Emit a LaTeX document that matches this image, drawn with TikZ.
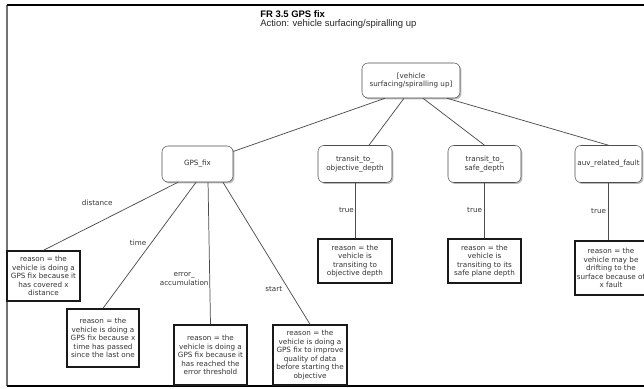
\documentclass[tikz,border=0pt]{standalone}
\usepackage{fontspec}
\usepackage{tikz}
\usetikzlibrary{calc}
\usetikzlibrary{shadows}
\newfontfamily\titlefont{Liberation Sans}
\newfontfamily\boxfont{DejaVu Sans}
\tikzset{
   px/.style={x=0.75pt, y=-0.75pt},
   decision/.style={draw=black!70, rounded corners=4.5pt, fill=white,
      drop shadow={shadow xshift=1.1pt, shadow yshift=-1.1pt, fill=black!45, opacity=0.6},
      minimum height=27.75pt, align=center, inner sep=1pt,
      font=\boxfont\fontsize{5.4}{6.45}\selectfont, text=black!80},
   reason/.style={draw=black!90, line width=1.1pt, fill=white,
      drop shadow={shadow xshift=1.1pt, shadow yshift=-1.1pt, fill=black!45, opacity=0.6},
      align=center, inner sep=1pt,
      font=\boxfont\fontsize{5.4}{6.45}\selectfont, text=black!80},
   link/.style={draw=black!70, line width=0.55pt},
   edgetext/.style={inner sep=0.6pt, align=center,
      font=\boxfont\fontsize{5.4}{6.45}\selectfont, text=black!80},
   }
\begin{document}
\begin{tikzpicture}[px]
            \useasboundingbox (0,0) rectangle (644,389);
            % frame of the sheet
            \draw[black!55, line width=0.9pt](7,5)--(7,386);
            \draw[black, line width=0.9pt](6.6,5)--(644,5);
            \draw[black, line width=1.1pt](6.6,386)--(644,386);
            \node[anchor=west, inner sep=0pt, font=\titlefont\bfseries\fontsize{7.1}{7.5}\selectfont] (title) at (260,14) {FR 3.5 GPS fix};
            \node[anchor=west, inner sep=0pt, font=\titlefont\fontsize{7.1}{7.5}\selectfont, text=black!85] (action) at (260,24) {Action: vehicle surfacing/spiralling up};
            % decision nodes
            \node[decision, minimum width=73.5pt, minimum height=26.25pt] (root) at (411,80.5) {[vehicle\\surfacing/spiralling up]};
            \node[decision, minimum width=53.25pt, minimum height=27pt] (gps) at (197.5,164) {GPS\_fix};
            \node[decision, minimum width=55.5pt] (tobj) at (355,164) {transit\_to\_\\objective\_depth};
            \node[decision, minimum width=54.75pt] (tsafe) at (484.5,164) {transit\_to\_\\safe\_depth};
            \node[decision, minimum width=50.25pt] (auv) at (608.5,164) {auv\_related\_fault};
            % reasons
            \node[reason, minimum width=54.75pt, minimum height=37.5pt] (rdist) at (43.5,276) {reason = the\\vehicle is doing a\\GPS fix because it\\has covered x\\distance};
            \node[reason, minimum width=54pt, minimum height=43.5pt] (rtime) at (103,338) {reason = the\\vehicle is doing a\\GPS fix because x\\time has passed\\since the last one};
            \node[reason, minimum width=54.75pt, minimum height=45pt] (rerr) at (210.5,355) {reason = the\\vehicle is doing a\\GPS fix because it\\has reached the\\error threshold};
            \node[reason, minimum width=55.5pt, minimum height=45pt] (rstart) at (310,355) {reason = the\\vehicle is doing a\\GPS fix to improve\\quality of data\\before starting the\\objective};
            \node[reason, minimum width=55.5pt, minimum height=33pt] (rtobj) at (355,261) {reason = the\\vehicle is\\transiting to\\objective depth};
            \node[reason, minimum width=54.75pt, minimum height=33pt] (rtsafe) at (484.5,261) {reason = the\\vehicle is\\transiting to its\\safe plane depth};
            \node[reason, minimum width=54pt, minimum height=40.5pt] (rauv) at (611,268) {reason = the\\vehicle may be\\drifting to the\\surface because of\\x fault};
            % connectors
            \draw[link]([xshift=-19.5pt]root.south)--(gps);
            \draw[link]([xshift=-5.25pt]root.south)--(tobj);
            \draw[link]([xshift=9pt]root.south)--(tsafe.north);
            \draw[link]([xshift=27pt]root.south)--(auv.north);
            \draw[link]([xshift=-14.6pt]gps.south)--(rdist.north) node[edgetext, pos=0.3, left=18pt]{distance};
            \draw[link]([xshift=-1.1pt]gps.south)--(rtime.north) node[edgetext, pos=0.48, left=3pt]{time};
            \draw[link]([xshift=7.9pt]gps.south)--(rerr.north) node[edgetext, pos=0.68, left]{error\_\\accumulation};
            \draw[link]([xshift=19.1pt]gps.south)--(rstart.north) node[edgetext, pos=0.755, left=4pt]{start};
            \draw[link](tobj)--(rtobj) node[edgetext, midway, left]{true};
            \draw[link](tsafe)--(rtsafe) node[edgetext, midway, left=1pt]{true};
            \draw[link](auv.south)--(auv.south|-rauv.north) node[edgetext, midway, left=1pt]{true};
        \end{tikzpicture}
\end{document}
